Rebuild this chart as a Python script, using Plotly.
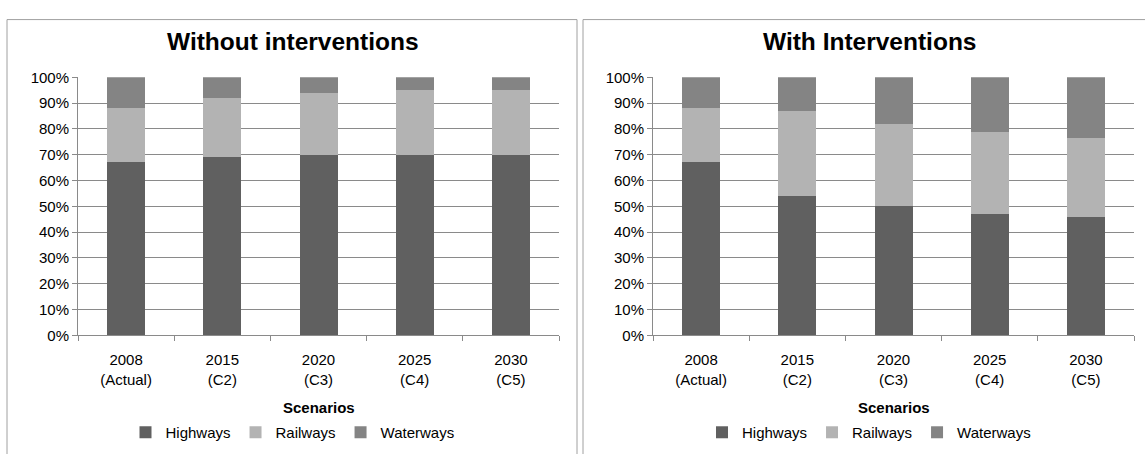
import plotly.graph_objects as go

categories = ["2008<br>(Actual)", "2015<br>(C2)", "2020<br>(C3)", "2025<br>(C4)", "2030<br>(C5)"]

# Without interventions (shares, %)
without_highways = [67, 69, 70, 70, 70]
without_railways = [21, 23, 24, 25, 25]
without_waterways = [12, 8, 6, 5, 5]

# With interventions (shares, %)
with_highways = [67, 54, 50, 47, 46]
with_railways = [21, 33, 32, 32, 30.5]
with_waterways = [12, 13, 18, 21, 23.5]

series_names = ["Highways", "Railways", "Waterways"]
colors = ["#606060", "#b3b3b3", "#848484"]

titles = ["Without interventions", "With Interventions"]
y_ticks = [0, 10, 20, 30, 40, 50, 60, 70, 80, 90, 100]
y_ticklabels = [f"{v}%" for v in y_ticks]

W, H = 1145, 454
FONT = "Arial, 'Liberation Sans', sans-serif"
GRID = "#8a8a8a"

fig = go.Figure()

panels = [
    ("x", "y", "legend", [without_highways, without_railways, without_waterways]),
    ("x2", "y2", "legend2", [with_highways, with_railways, with_waterways]),
]
for xa, ya, lg, vals in panels:
    for name, col, v in zip(series_names, colors, vals):
        fig.add_trace(go.Bar(
            x=categories, y=v, name=name, xaxis=xa, yaxis=ya, legend=lg,
            marker=dict(color=col, line=dict(width=0)),
        ))

# pixel geometry
plot_l = [78, 653]
plot_r = [559, 1134]
y_top, y_bot = 71, 339
panel_l = [7, 583]
panel_r = [577, 1160]
panel_c = [292.5, 869]

ydom = [1 - y_bot / H, 1 - y_top / H]

axis_common = dict(
    showline=True, linecolor=GRID, linewidth=1,
    ticks="outside", tickcolor=GRID, ticklen=5, tickwidth=1,
    tickfont=dict(family=FONT, size=15, color="#000000"),
)

for i in range(2):
    sfx = "" if i == 0 else str(i + 1)
    fig.layout["xaxis" + sfx] = dict(
        domain=[plot_l[i] / W, plot_r[i] / W],
        anchor="y" + sfx, tickson="boundaries", showgrid=False,
        ticklabelstandoff=11, fixedrange=True,
        **axis_common,
    )
    fig.layout["yaxis" + sfx] = dict(
        domain=ydom, anchor="x" + sfx, range=[0, 100],
        tickvals=y_ticks, ticktext=y_ticklabels,
        showgrid=True, gridcolor=GRID, gridwidth=1, zeroline=False,
        fixedrange=True,
        **axis_common,
    )

annotations = []
shapes = []
for i in range(2):
    annotations.append(dict(
        text=f"<b>{titles[i]}</b>", x=panel_c[i] / W, y=1 - 34 / H,
        xref="paper", yref="paper", xanchor="center", yanchor="middle",
        showarrow=False, font=dict(family=FONT, size=24.5, color="#000000"),
    ))
    annotations.append(dict(
        text="<b>Scenarios</b>", x=(plot_l[i] + plot_r[i]) / 2 / W, y=1 - 414 / H,
        xref="paper", yref="paper", xanchor="center", yanchor="middle",
        showarrow=False, font=dict(family=FONT, size=15, color="#000000"),
    ))
    shapes.append(dict(
        type="rect", xref="paper", yref="paper",
        x0=panel_l[i] / W, x1=panel_r[i] / W, y0=-0.2, y1=1 - 11 / H,
        line=dict(color="#a0a0a0", width=1), fillcolor="rgba(0,0,0,0)",
        layer="below",
    ))

legend_common = dict(
    orientation="h", xanchor="center", yanchor="middle",
    traceorder="normal", font=dict(family=FONT, size=15, color="#000000"),
    bgcolor="rgba(0,0,0,0)", itemclick=False, itemdoubleclick=False,
)

fig.update_layout(
    width=W, height=H, margin=dict(l=0, r=0, t=0, b=0),
    paper_bgcolor="white", plot_bgcolor="white",
    barmode="stack", bargap=0.605,
    showlegend=True,
    legend=dict(x=panel_c[0] / W, y=1 - 440 / H, **legend_common),
    legend2=dict(x=panel_c[1] / W, y=1 - 440 / H, **legend_common),
    annotations=annotations, shapes=shapes,
    font=dict(family=FONT, size=15, color="#000000"),
)

fig.write_html("out.html", config={"displayModeBar": False})
